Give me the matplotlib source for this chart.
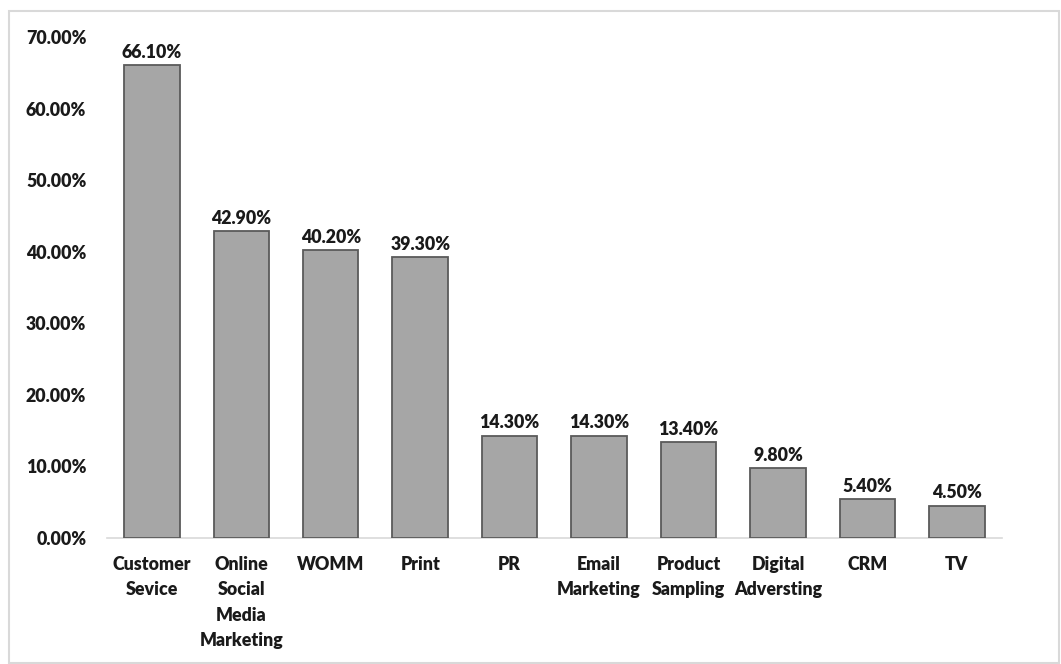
import matplotlib
matplotlib.use("Agg")
import matplotlib.pyplot as plt
from matplotlib.patches import Rectangle

categories = ["Customer\nSevice", "Online\nSocial\nMedia\nMarketing", "WOMM", "Print", "PR",
              "Email\nMarketing", "Product\nSampling", "Digital\nAdversting", "CRM", "TV"]
values = [66.10, 42.90, 40.20, 39.30, 14.30, 14.30, 13.40, 9.80, 5.40, 4.50]
yticks = [0, 10, 20, 30, 40, 50, 60, 70]

plt.rcParams['font.family'] = ['Lato', 'DejaVu Sans']

FS = 12.8
TXT = "#1a1a1a"
fig = plt.figure(figsize=(10.61, 6.64), dpi=100)
ax = fig.add_axes([0.101, 0.190, 0.843, 0.754])

x = list(range(len(categories)))
bars = ax.bar(x, values, width=0.62, color="#a6a6a6", edgecolor="#5a5a5a", linewidth=1.3, zorder=3)
for xi, v in zip(x, values):
    ax.annotate(f"{v:.2f}%", (xi, v), xytext=(0, 3), textcoords="offset points",
                ha="center", va="bottom", fontsize=FS, fontweight="heavy", color=TXT)

ax.set_xlim(-0.5, len(categories) - 0.5)
ax.set_ylim(0, 70)
ax.set_yticks(yticks)
ax.set_yticklabels([f"{t:.2f}%" for t in yticks], fontsize=FS, fontweight="heavy", color=TXT)
ax.set_xticks(x)
ax.set_xticklabels(categories, fontsize=FS, fontweight="heavy", color=TXT, linespacing=1.6, va="top")
ax.tick_params(axis="both", length=0)
ax.tick_params(axis="x", pad=13)
ax.tick_params(axis="y", pad=15)
for s in ["top", "right", "left"]:
    ax.spines[s].set_visible(False)
ax.spines["bottom"].set_color("#d9d9d9")
ax.spines["bottom"].set_linewidth(1.2)

fig.patches.append(Rectangle((9 / 1061, 1 / 664), 1050 / 1061, 652 / 664, transform=fig.transFigure,
                             fill=False, edgecolor="#d9d9d9", linewidth=1.5))

fig.savefig("out.png", dpi=100)
